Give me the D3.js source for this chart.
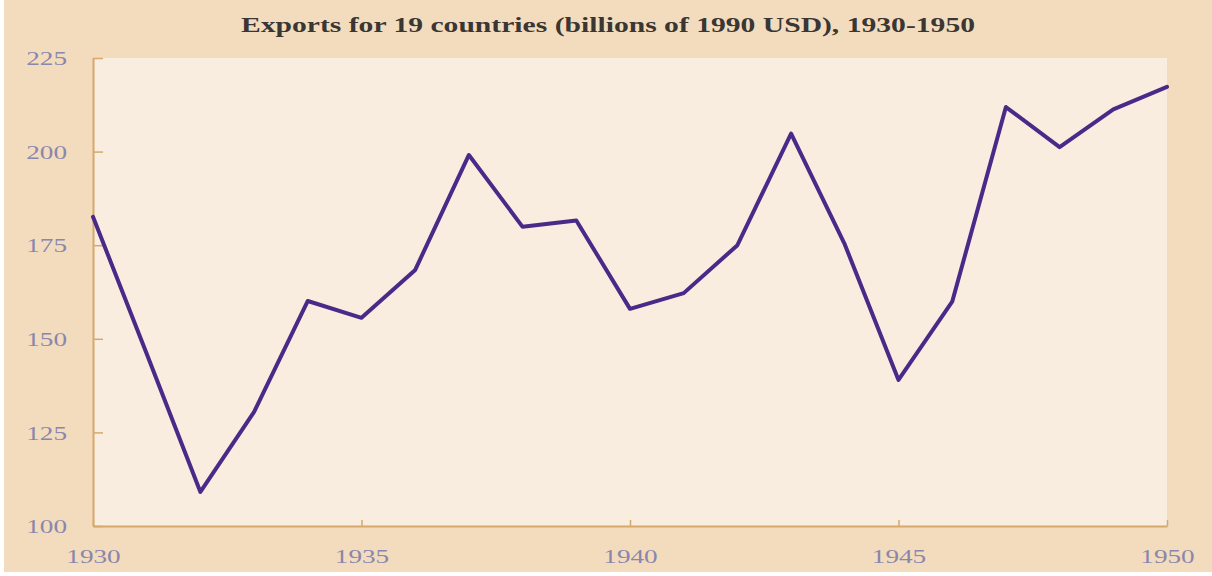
<!DOCTYPE html>
<html>
<head>
<meta charset="utf-8">
<script src="https://cdn.jsdelivr.net/npm/d3@7"></script>
<style>
  body { margin: 0; background: #ffffff; }
  svg { display: block; }
</style>
</head>
<body>
<div id="chart"></div>
<script>
// Exports for 19 countries, billions of 1990 USD
var years = [1930, 1931, 1932, 1933, 1934, 1935, 1936, 1937, 1938, 1939, 1940,
             1941, 1942, 1943, 1944, 1945, 1946, 1947, 1948, 1949, 1950];
var exportsValues = [182.6, 146, 109.1, 130.5, 160.1, 155.6, 168.4, 199.1, 179.9, 181.6, 158,
                     162.2, 175, 204.8, 175.2, 139, 159.9, 211.9, 201.2, 211.3, 217.3];
var xTicks = [1930, 1935, 1940, 1945, 1950];
var yTicks = [100, 125, 150, 175, 200, 225];

var svgWidth = 1212;
var svgHeight = 576;
var margin = { top: 58, right: 45, bottom: 50, left: 93 };
var width = 1167 - margin.left;
var height = 526 - margin.top;

var svg = d3.select("#chart")
  .append("svg")
  .attr("width", svgWidth)
  .attr("height", svgHeight);

// outer panel
svg.append("rect")
  .attr("x", 4)
  .attr("y", 0)
  .attr("width", svgWidth - 4)
  .attr("height", 572)
  .attr("fill", "#f3dcbd");

svg.append("text")
  .attr("x", 608)
  .attr("y", 32)
  .attr("text-anchor", "middle")
  .attr("textLength", 734)
  .attr("lengthAdjust", "spacingAndGlyphs")
  .style("font-family", "'Liberation Serif', 'DejaVu Serif', serif")
  .style("font-weight", "bold")
  .style("font-size", "20px")
  .attr("fill", "#3a3634")
  .text("Exports for 19 countries (billions of 1990 USD), 1930-1950");

var chartGroup = svg.append("g")
  .attr("transform", `translate(${margin.left}, ${margin.top})`);

chartGroup.append("rect")
  .attr("width", width)
  .attr("height", height)
  .attr("fill", "#f9eddf");

var xScale = d3.scaleLinear().domain([1930, 1950]).range([0, width]);
var yScale = d3.scaleLinear().domain([100, 225]).range([height, 0]);

var bottomAxis = d3.axisBottom(xScale)
  .tickValues(xTicks)
  .tickFormat(d3.format("d"))
  .tickSizeInner(-6)
  .tickSizeOuter(0)
  .tickPadding(24);

var leftAxis = d3.axisLeft(yScale)
  .tickValues(yTicks)
  .tickFormat(d3.format("d"))
  .tickSizeInner(-10)
  .tickSizeOuter(0)
  .tickPadding(26);

var axisColor = "#d6a86c";
var labelColor = "#8a86ad";

function styleAxis(g) {
  g.select(".domain").attr("stroke", axisColor).attr("stroke-width", 2);
  g.selectAll(".tick line").attr("stroke", axisColor).attr("stroke-width", 1.5);
  g.selectAll(".tick text")
    .attr("fill", labelColor)
    .style("font-family", "'Liberation Serif', 'DejaVu Serif', serif")
    .style("font-size", "19px")
    .attr("textLength", function() { return this.textContent.length * 13.6; })
    .attr("lengthAdjust", "spacingAndGlyphs");
}

chartGroup.append("g")
  .attr("transform", `translate(0, ${height})`)
  .call(bottomAxis)
  .call(styleAxis);

chartGroup.append("g")
  .call(leftAxis)
  .call(styleAxis)
  .selectAll(".tick text")
  .attr("dy", "0.35em");

var line = d3.line()
  .x((d, i) => xScale(years[i]))
  .y(d => yScale(d));

chartGroup.append("path")
  .datum(exportsValues)
  .attr("d", line)
  .attr("fill", "none")
  .attr("stroke", "#4a2a88")
  .attr("stroke-width", 4)
  .attr("stroke-linejoin", "round")
  .attr("stroke-linecap", "round");
</script>
</body>
</html>
